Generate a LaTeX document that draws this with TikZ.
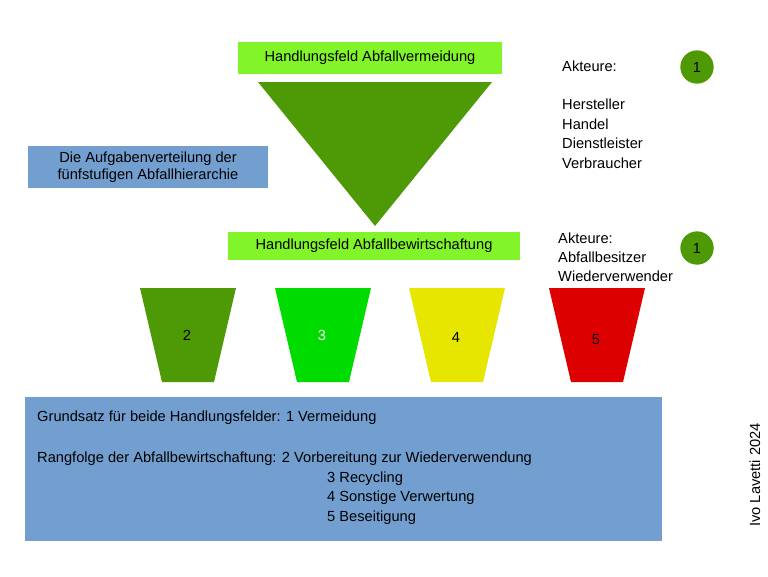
\documentclass[tikz,border=0pt]{standalone}
\usepackage{fontspec}
\setmainfont{Liberation Sans}
\definecolor{darkgreen}{HTML}{4E9A06}
\definecolor{lightgreen}{HTML}{81F52A}
\definecolor{brightgreen}{HTML}{00DC00}
\definecolor{yellowish}{HTML}{E6E600}
\definecolor{redish}{HTML}{DC0000}
\definecolor{boxblue}{HTML}{729FCF}
\tikzset{
  field/.style={fill=lightgreen, inner sep=0pt, font=\fontsize{12.5}{15}\selectfont},
  txt/.style={anchor=west, inner sep=0pt, font=\fontsize{12.5}{15}\selectfont},
  badge/.style={circle, fill=darkgreen, minimum size=1cm, inner sep=0pt, font=\fontsize{12.5}{15}\selectfont}
}
\begin{document}
\begin{tikzpicture}[x=0.03cm, y=-0.03cm]
    \useasboundingbox (0,0) rectangle (768,576);

    % Upper field and triangle
    \node[field, minimum width=264*0.03cm, minimum height=32*0.03cm] (Top) at (370,58) {Handlungsfeld Abfallvermeidung};
    \fill[darkgreen] (258,82) -- (492,82) -- (375,226) -- cycle;

    % Description box
    \node[fill=boxblue, minimum width=240*0.03cm, minimum height=42*0.03cm, inner sep=0pt, align=center, font=\fontsize{12.5}{15}\selectfont] (Desc) at (148,167) {Die Aufgabenverteilung der\\fünfstufigen Abfallhierarchie};

    % Actors
    \node[txt] (A1) at (562,66) {Akteure:};
    \foreach \t [count=\i] in {Hersteller, Handel, Dienstleister, Verbraucher}
        \node[txt] (L\i) at (562,85+19.5*\i) {\t};
    \node[badge] (B1) at (697,67) {1};

    % Lower field
    \node[field, minimum width=292*0.03cm, minimum height=28*0.03cm] (Mid) at (374,246) {Handlungsfeld Abfallbewirtschaftung};
    \node[txt] (A2) at (558,238) {Akteure:};
    \node[txt] (M1) at (558,257) {Abfallbesitzer};
    \node[txt] (M2) at (558,276) {Wiederverwender};
    \node[badge] (B2) at (697,248) {1};

    % Trapezoids
    \foreach \x/\c/\n/\tc/\dy in {140/darkgreen/2/black/0, 275/brightgreen/3/white/0, 409/yellowish/4/black/2, 549/redish/5/black/5} {
        \fill[\c] (\x,288) -- (\x+96,288) -- (\x+74,382) -- (\x+22,382) -- cycle;
        \node[text=\tc, inner sep=0pt, font=\fontsize{12.5}{15}\selectfont] (T\n) at (\x+47,335+\dy) {\n};
    }

    % Bottom box
    \fill[boxblue] (25,397) rectangle (662,541);
    \node[txt] (G1) at (37,418) {Grundsatz für beide Handlungsfelder: 1 Vermeidung};
    \node[txt] (G2) at (37,459) {Rangfolge der Abfallbewirtschaftung: 2 Vorbereitung zur Wiederverwendung};
    \node[txt] (G3) at (327,479) {3 Recycling};
    \node[txt] (G4) at (327,498) {4 Sonstige Verwertung};
    \node[txt] (G5) at (327,518) {5 Beseitigung};

    % Signature
    \node[rotate=90, inner sep=0pt, font=\fontsize{12.5}{15}\selectfont] (Sig) at (755,475) {Ivo Lavetti 2024};
\end{tikzpicture}
\end{document}
